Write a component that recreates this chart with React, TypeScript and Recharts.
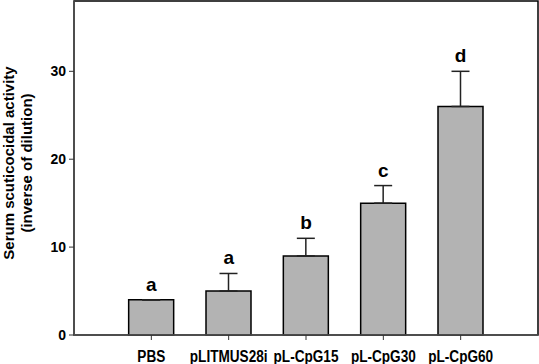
import React from 'react';
import { ComposedChart, Bar, Line, XAxis, YAxis, ErrorBar, LabelList, ReferenceArea } from 'recharts';

const categories = ['PBS', 'pLITMUS28i', 'pL-CpG15', 'pL-CpG30', 'pL-CpG60'];
const means = [4, 5, 9, 15, 26];
const errors = [0, 2, 2, 2, 4];
const letters = ['a', 'a', 'b', 'c', 'd'];
const yTicks = [0, 10, 20, 30];
const yMax = 38;
const xPositions = [1, 2, 3, 4, 5];
const xMax = 6;

const data = categories.map((name, i) => ({
  name,
  pos: xPositions[i],
  mean: means[i],
  err: [0, errors[i]],
  top: means[i] + errors[i],
  letter: letters[i],
}));

const FONT = 'Arial, "Liberation Sans", Helvetica, sans-serif';

const XTick = (props: any) => {
  const { x, y, payload } = props;
  const idx = xPositions.indexOf(payload.value);
  return (
    <g transform={`translate(${x},${y})`}>
      <text
        transform="scale(0.8,1)"
        x={0}
        y={0}
        dy={20}
        textAnchor="middle"
        fontFamily={FONT}
        fontWeight="bold"
        fontSize={17}
        fill="#000"
      >
        {categories[idx]}
      </text>
    </g>
  );
};

const YTick = (props: any) => {
  const { x, y, payload } = props;
  return (
    <text
      x={x}
      y={y}
      dy={5}
      textAnchor="end"
      fontFamily={FONT}
      fontWeight="bold"
      fontSize={14}
      fill="#000"
    >
      {payload.value}
    </text>
  );
};

const YLabel = (props: any) => {
  const { viewBox } = props;
  const cy = viewBox.y + viewBox.height / 2 - 5;
  return (
    <g fontFamily={FONT} fontWeight="bold" fontSize={15} fill="#000">
      <text transform={`translate(14,${cy}) rotate(-90)`} textAnchor="middle">
        Serum scuticocidal activity
      </text>
      <text transform={`translate(32,${cy}) rotate(-90)`} textAnchor="middle">
        (inverse of dilution)
      </text>
    </g>
  );
};

const LetterLabel = (props: any) => {
  const { x, y, value } = props;
  return (
    <text
      x={x}
      y={y - 9}
      textAnchor="middle"
      fontFamily={FONT}
      fontWeight="bold"
      fontSize={19}
      fill="#000"
    >
      {value}
    </text>
  );
};

export default function App() {
  return (
    <div style={{ position: 'absolute', left: 0, top: 0, background: '#fff' }}>
      <ComposedChart
        width={539}
        height={364}
        data={data}
        margin={{ top: 1, right: 1, bottom: 0, left: 0 }}
      >
        <ReferenceArea
          x1={0}
          x2={xMax}
          y1={0}
          y2={yMax}
          fill="none"
          stroke="#000"
          strokeWidth={1.5}
          ifOverflow="visible"
        />
        <XAxis
          dataKey="pos"
          type="number"
          domain={[0, xMax]}
          ticks={xPositions}
          height={29}
          tickSize={5}
          tickMargin={2}
          tick={<XTick />}
          axisLine={{ stroke: '#555', strokeWidth: 1.5 }}
          tickLine={{ stroke: '#333', strokeWidth: 1 }}
          interval={0}
        />
        <YAxis
          type="number"
          domain={[0, yMax]}
          ticks={yTicks}
          width={74}
          tickSize={5}
          tickMargin={3}
          tick={<YTick />}
          axisLine={{ stroke: '#555', strokeWidth: 1.5 }}
          tickLine={{ stroke: '#333', strokeWidth: 1 }}
          label={{ content: <YLabel /> }}
        />
        <Bar
          dataKey="mean"
          barSize={45}
          fill="#b3b3b3"
          stroke="#000"
          strokeWidth={1.5}
          isAnimationActive={false}
        >
          <ErrorBar dataKey="err" width={9} stroke="#222" strokeWidth={1.5} direction="y" />
        </Bar>
        <Line
          dataKey="top"
          stroke="none"
          dot={false}
          activeDot={false}
          isAnimationActive={false}
        >
          <LabelList dataKey="letter" content={<LetterLabel />} />
        </Line>
      </ComposedChart>
    </div>
  );
}
